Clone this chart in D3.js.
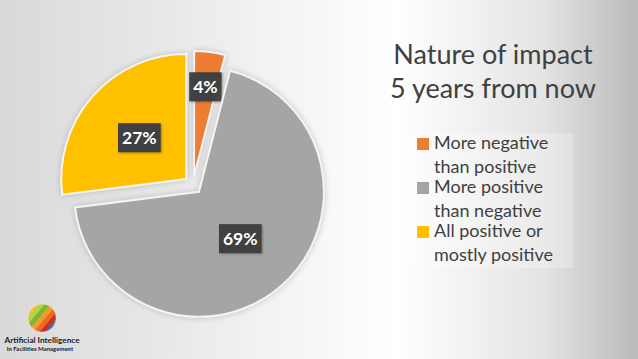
<!DOCTYPE html>
<html>
<head>
<meta charset="utf-8">
<script src="https://cdn.jsdelivr.net/npm/d3@7/dist/d3.min.js"></script>
<style>
  html, body { margin: 0; padding: 0; overflow: hidden; }
  svg { display: block; }
</style>
</head>
<body>
<svg id="chart" width="638" height="359"></svg>
<script>
// ---- data ----
const categories = ["More negative than positive", "More positive than negative", "All positive or mostly positive"];
const values = [4, 69, 27];
const colors = ["#ED7D31", "#A5A5A5", "#FFC000"];
const legendLines = [["More negative", "than positive"], ["More positive", "than negative"], ["All positive or", "mostly positive"]];
const titleLines = ["Nature of impact", "5 years from now"];
const logoLines = ["Artificial Intelligence", "In Facilities Management"];

const W = 638, H = 359;
const svg = d3.select("#chart");
const defs = svg.append("defs");

// background
const bg = defs.append("linearGradient").attr("id", "bg").attr("x1", 0).attr("x2", 1).attr("y1", 0).attr("y2", 0);
[[0, "#d9d9d9"], [0.3, "#ebebeb"], [0.62, "#ffffff"], [0.85, "#e4e4e4"], [1, "#bababa"]]
  .forEach(([o, c]) => bg.append("stop").attr("offset", o).attr("stop-color", c));
svg.append("rect").attr("width", W).attr("height", H).attr("fill", "url(#bg)");

const shadow = defs.append("filter").attr("id", "sh").attr("x", "-20%").attr("y", "-20%").attr("width", "140%").attr("height", "140%");
shadow.append("feDropShadow").attr("dx", 0).attr("dy", 0).attr("stdDeviation", 3).attr("flood-color", "#888").attr("flood-opacity", 0.45);
const lshadow = defs.append("filter").attr("id", "lsh").attr("x", "-30%").attr("y", "-30%").attr("width", "160%").attr("height", "160%");
lshadow.append("feDropShadow").attr("dx", 1).attr("dy", 1).attr("stdDeviation", 1.2).attr("flood-color", "#000").attr("flood-opacity", 0.35);

// ---- pie ----
const cx = 193, cy = 185, R = 125, explode = 9;
const pie = d3.pie().sort(null).value(d => d);
const arcs = pie(values);
const arc = d3.arc().innerRadius(0).outerRadius(R);
const total = d3.sum(values);

const g = svg.append("g").attr("transform", `translate(${cx},${cy})`);
const slices = g.selectAll("g.slice").data(arcs).enter().append("g")
  .attr("class", "slice")
  .attr("transform", d => {
    const m = (d.startAngle + d.endAngle) / 2;
    return `translate(${explode * Math.sin(m)},${-explode * Math.cos(m)})`;
  });
slices.append("path")
  .attr("d", arc)
  .attr("fill", (d, i) => colors[i])
  .attr("stroke", "#f4f4f4")
  .attr("stroke-width", 2)
  .attr("stroke-linejoin", "miter")
  .attr("filter", "url(#sh)");

// labels
const labelG = slices.append("g").attr("transform", d => {
  const frac = d.value / total;
  const lr = frac < 0.1 ? 0.72 * R : 0.5 * R;
  const m = (d.startAngle + d.endAngle) / 2;
  return `translate(${lr * Math.sin(m)},${-lr * Math.cos(m)})`;
});
const lbBox = labelG.append("rect").attr("fill", "#404040").attr("filter", "url(#lsh)");
const lbText = labelG.append("text")
  .attr("text-anchor", "middle")
  .attr("dominant-baseline", "central")
  .attr("font-family", "Lato, 'Open Sans', sans-serif")
  .attr("font-weight", "bold")
  .attr("font-size", 17.5)
  .attr("fill", "#ffffff")
  .text(d => Math.round(d.value / total * 100) + "%");
lbText.each(function () {
  const b = this.getBBox();
  d3.select(this.parentNode).select("rect")
    .attr("x", b.x - 4).attr("y", -14.5).attr("width", b.width + 8).attr("height", 29);
});

// ---- title ----
const title = svg.append("text")
  .attr("x", 493).attr("text-anchor", "middle")
  .attr("font-family", "Lato, 'Open Sans', sans-serif")
  .attr("font-size", 27)
  .attr("fill", "#404040");
title.selectAll("tspan").data(titleLines).enter().append("tspan")
  .attr("x", 493).attr("y", (d, i) => 64 + i * 34).text(d => d);

// ---- legend ----
const legend = svg.append("g");
legend.append("rect").attr("x", 412).attr("y", 133).attr("width", 161).attr("height", 135)
  .attr("fill", "#ffffff").attr("opacity", 0.25);
const items = legend.selectAll("g.item").data(categories).enter().append("g")
  .attr("class", "item")
  .attr("transform", (d, i) => `translate(417,${149 + i * 44})`);
items.append("rect").attr("x", 0).attr("y", -11).attr("width", 12).attr("height", 12)
  .attr("fill", (d, i) => colors[i]);
items.append("text")
  .attr("font-family", "Lato, 'Open Sans', sans-serif")
  .attr("font-size", 18)
  .attr("fill", "#404040")
  .each(function (d, i) {
    d3.select(this).selectAll("tspan").data(legendLines[i]).enter().append("tspan")
      .attr("x", 17).attr("y", (t, j) => j * 24).text(t => t);
  });

// ---- logo ----
const logo = svg.append("g").attr("transform", "translate(42,318)");
const clip = defs.append("clipPath").attr("id", "ball");
clip.append("circle").attr("r", 14);
const ball = logo.append("g").attr("clip-path", "url(#ball)");
const stripeColors = ["#2b6cb0", "#c8302a", "#ea6a1e", "#f39a2a", "#7cb82f", "#b9d24a", "#f2c230"];
ball.selectAll("rect").data(stripeColors).enter().append("rect")
  .attr("x", -20).attr("width", 40)
  .attr("y", (d, i) => 16 - (i + 1) * 4.6).attr("height", 4.8)
  .attr("fill", d => d)
  .attr("transform", "rotate(-50)");
logo.append("circle").attr("r", 14).attr("fill", "none").attr("stroke", "#ffffff").attr("stroke-opacity", 0.3);
svg.append("text").attr("x", 42).attr("y", 343).attr("text-anchor", "middle")
  .attr("font-family", "Lato, sans-serif").attr("font-weight", "bold").attr("font-size", 8.2)
  .attr("fill", "#1a1a2a").text(logoLines[0]);
svg.append("text").attr("x", 40).attr("y", 351).attr("text-anchor", "middle")
  .attr("font-family", "Lato, sans-serif").attr("font-weight", "bold").attr("font-size", 6)
  .attr("fill", "#1a1a2a").text(logoLines[1]);
</script>
</body>
</html>
